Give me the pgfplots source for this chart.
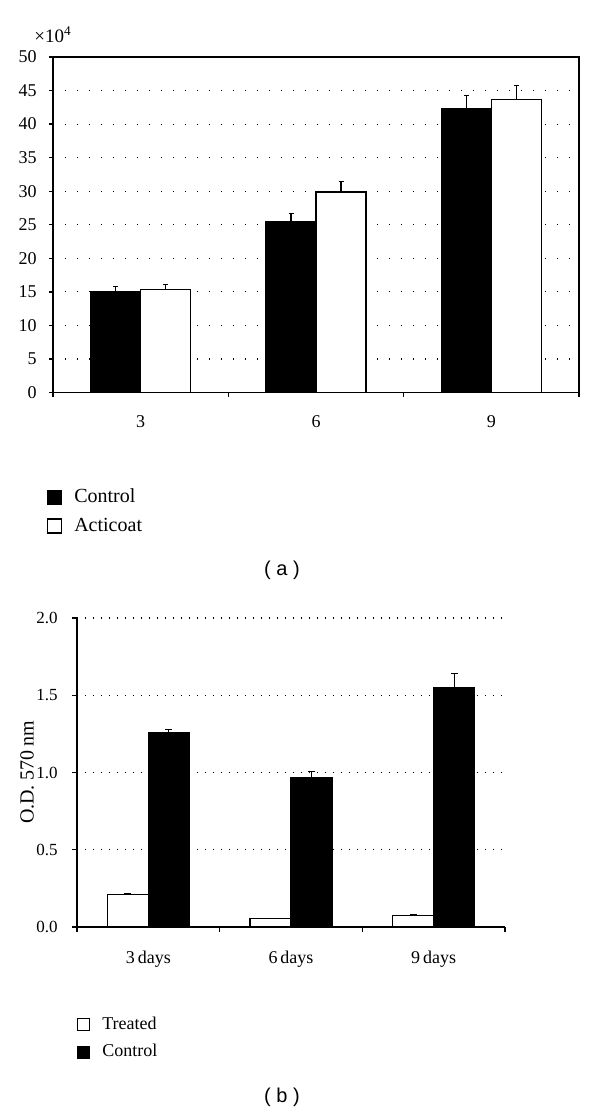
\documentclass[border=0pt]{standalone}
\usepackage{fontspec}
\setmainfont{Liberation Serif}
\newfontfamily\sansf{Liberation Sans}
\usepackage{pgfplots}
\pgfplotsset{compat=1.18}
\begin{document}
\begin{tikzpicture}
\useasboundingbox (0pt,0pt) rectangle (300pt,-556pt);
% ---------------- (a) ----------------
\begin{axis}[
  at={(26.5pt,-196.25pt)}, anchor=south west,
  scale only axis, width=263pt, height=167.75pt,
  xmin=-0.5, xmax=2.5, ymin=0, ymax=50,
  ybar=0pt, bar width=25pt,
  xtick={0,1,2}, xticklabels={3,6,9},
  major x tick style={draw=none},
  minor xtick={-0.5,0.5,1.5,2.5},
  ytick={0,5,...,50},
  tick pos=left, tick align=outside,
  major tick length=2pt, minor tick length=2pt,
  tick style={black, line width=0.65pt},
  axis line style={black, line width=0.65pt},
  ymajorgrids,
  grid style={black, line width=0.6pt, dash pattern=on 0.6pt off 5.4pt, dash phase=-6pt},
  /pgf/number format/assume math mode=true,
  ticklabel style={font=\fontsize{9}{10}\selectfont},
  yticklabel style={inner sep=0pt, anchor=east, xshift=-6pt},
  xticklabel style={inner sep=0pt, anchor=north, yshift=-9.5pt},
  legend style={at={(-0.0114,-0.2876)}, anchor=north west, draw=none, fill=none,
    inner sep=0pt, outer sep=0pt, font=\fontsize{10}{12}\selectfont,
    row sep=6pt, column sep=6pt, nodes={inner sep=0pt}},
  legend cell align=left,
]
\addplot[fill=black, draw=black, line width=0.65pt, bar shift=-12.5pt,
  legend image code/.code={\draw[fill=black,draw=black,line width=0.65pt] (0pt,-3.5pt) rectangle (7pt,3.5pt);},
  error bars/.cd, y dir=plus, y explicit,
  error bar style={black, line width=0.65pt},
  error mark options={black, rotate=90, mark size=1.25pt, line width=0.65pt}]
  coordinates {(0,15.0) +- (0,0.8) (1,25.4) +- (0,1.3) (2,42.3) +- (0,2.0)};
\addlegendentry{Control}
\addplot[fill=white, draw=black, line width=0.65pt, bar shift=12.5pt,
  legend image code/.code={\draw[fill=white,draw=black,line width=0.65pt] (0pt,-3.5pt) rectangle (7pt,3.5pt);},
  error bars/.cd, y dir=plus, y explicit,
  error bar style={black, line width=0.65pt},
  error mark options={black, rotate=90, mark size=1.25pt, line width=0.65pt}]
  coordinates {(0,15.3) +- (0,0.8) (1,29.9) +- (0,1.5) (2,43.7) +- (0,2.1)};
\addlegendentry{Acticoat}
\end{axis}
\node[anchor=base, font=\fontsize{9.5}{11}\selectfont, inner sep=0pt] at (26.5pt,-21.4pt) {×10\textsuperscript{4}};
\node[font=\sansf\fontsize{10}{12}\selectfont] at (141pt,-285pt) {( a )};
% ---------------- (b) ----------------
\begin{axis}[
  at={(38.5pt,-463.5pt)}, anchor=south west,
  scale only axis, width=214pt, height=154.5pt,
  xmin=-0.5, xmax=2.5, ymin=0, ymax=2.0,
  axis x line*=bottom, axis y line*=left,
  ybar=0pt, bar width=20.5pt,
  xtick={0,1,2}, xticklabels={3\,days,6\,days,9\,days},
  major x tick style={draw=none},
  minor xtick={-0.5,0.5,1.5,2.5},
  ytick={0,0.5,1.0,1.5,2.0},
  tick align=outside,
  major tick length=2.5pt, minor tick length=2.5pt,
  tick style={black, line width=0.65pt},
  axis line style={black, line width=0.65pt, -},
  ymajorgrids,
  grid style={black, line width=0.6pt, dash pattern=on 0.6pt off 3.4pt, dash phase=-4pt},
  /pgf/number format/assume math mode=true,
  yticklabel style={/pgf/number format/fixed, /pgf/number format/fixed zerofill, /pgf/number format/precision=1,
    inner sep=0pt, anchor=east, xshift=-7pt, font=\fontsize{8.5}{10}\selectfont},
  xticklabel style={inner sep=0pt, anchor=north, yshift=-9.5pt, font=\fontsize{9}{10}\selectfont},
  ylabel={O.D. 570\,nm},
  ylabel style={font=\fontsize{9.5}{11}\selectfont},
  every axis y label/.style={at={(axis description cs:-0.1168,0.5)}, rotate=90, anchor=center},
  legend style={at={(0,-0.291)}, anchor=north west, draw=none, fill=none,
    inner sep=0pt, outer sep=0pt, font=\fontsize{9}{10}\selectfont,
    row sep=6pt, column sep=6pt, nodes={inner sep=0pt}},
  legend cell align=left,
]
\addplot[fill=white, draw=black, line width=0.65pt, bar shift=-10.25pt,
  legend image code/.code={\draw[fill=white,draw=black,line width=0.65pt] (0pt,-3pt) rectangle (6pt,3pt);},
  error bars/.cd, y dir=plus, y explicit,
  error bar style={black, line width=0.65pt},
  error mark options={black, rotate=90, mark size=1.75pt, line width=0.65pt}]
  coordinates {(0,0.210) +- (0,0.004) (1,0.054) +- (0,0.003) (2,0.073) +- (0,0.005)};
\addlegendentry{Treated}
\addplot[fill=black, draw=black, line width=0.65pt, bar shift=10.25pt,
  legend image code/.code={\draw[fill=black,draw=black,line width=0.65pt] (0pt,-3pt) rectangle (6pt,3pt);},
  error bars/.cd, y dir=plus, y explicit,
  error bar style={black, line width=0.65pt},
  error mark options={black, rotate=90, mark size=1.75pt, line width=0.65pt}]
  coordinates {(0,1.260) +- (0,0.017) (1,0.966) +- (0,0.040) (2,1.549) +- (0,0.093)};
\addlegendentry{Control}
\end{axis}
\node[font=\sansf\fontsize{10}{12}\selectfont] at (141pt,-548.5pt) {( b )};
\end{tikzpicture}
\end{document}
